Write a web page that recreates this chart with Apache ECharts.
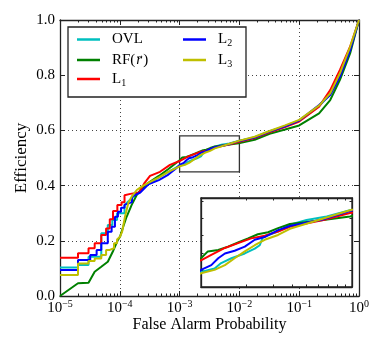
<!DOCTYPE html>
<html>
<head>
<meta charset="utf-8">
<script src="https://cdn.jsdelivr.net/npm/echarts@6/dist/echarts.min.js"></script>
<style>
  html, body { margin: 0; padding: 0; background: #fff; }
  #chart { width: 374px; height: 340px; }
</style>
</head>
<body>
<div id="chart"></div>
<script>
// tick labels
var xTicks = [1e-5, 1e-4, 1e-3, 1e-2, 1e-1, 1];
var xTickExp = ['−5', '−4', '−3', '−2', '−1', '0'];
var yTicks = [0, 0.2, 0.4, 0.6, 0.8, 1.0];
var yTickLabels = ['0.0', '0.2', '0.4', '0.6', '0.8', '1.0'];

// zoom box shown in the inset
var zoomX = [1e-3, 1e-2];
var zoomY = [0.45, 0.58];

var seriesNames = ['OVL', 'RF', 'L1', 'L2', 'L3'];

// [false alarm probability, efficiency]
var ovlData = [
  [1e-5, 0.103], [2e-5, 0.103], [2e-5, 0.112], [3e-5, 0.112], [3e-5, 0.142], [4.9e-5, 0.142],
  [4.9e-5, 0.227], [6.3e-5, 0.227], [6.3e-5, 0.257], [7.5e-5, 0.257], [7.5e-5, 0.275], [9e-5, 0.275],
  [9e-5, 0.3], [1.2e-4, 0.3], [1.2e-4, 0.33], [1.5e-4, 0.35], [2.2e-4, 0.38], [3e-4, 0.405],
  [4.5e-4, 0.43], [6.5e-4, 0.45], [1e-3, 0.472], [1.23e-3, 0.477], [1.36e-3, 0.485], [1.59e-3, 0.492],
  [1.95e-3, 0.499], [2.27e-3, 0.506], [2.45e-3, 0.511], [2.57e-3, 0.523], [3.24e-3, 0.531],
  [3.88e-3, 0.541], [5e-3, 0.548], [6.8e-3, 0.553], [9.7e-3, 0.562], [1.8e-2, 0.575], [3.2e-2, 0.597],
  [5.8e-2, 0.615], [0.1, 0.635], [0.215, 0.688], [0.33, 0.73], [0.48, 0.8], [0.71, 0.893], [1, 1]
];
var rfData = [
  [1e-5, 0], [2e-5, 0.046], [3e-5, 0.048], [3.8e-5, 0.088], [4.9e-5, 0.106], [6.3e-5, 0.124],
  [7.8e-5, 0.165], [9.3e-5, 0.203], [1.01e-4, 0.215], [1.14e-4, 0.251], [1.3e-4, 0.287],
  [1.58e-4, 0.33], [1.92e-4, 0.366], [2.32e-4, 0.39], [3e-4, 0.41], [4.5e-4, 0.435], [6.5e-4, 0.46],
  [1e-3, 0.492], [1.11e-3, 0.502], [1.3e-3, 0.504], [1.51e-3, 0.509], [1.76e-3, 0.515],
  [2.05e-3, 0.521], [2.38e-3, 0.527], [2.78e-3, 0.53], [3.24e-3, 0.536], [3.88e-3, 0.542],
  [6.46e-3, 0.548], [9.7e-3, 0.553], [1.8e-2, 0.566], [3.2e-2, 0.588], [5.8e-2, 0.603], [0.1, 0.618],
  [0.215, 0.662], [0.33, 0.71], [0.48, 0.783], [0.71, 0.879], [1, 1]
];
var l1Data = [
  [1e-5, 0.139], [2e-5, 0.139], [2e-5, 0.155], [3e-5, 0.155], [3e-5, 0.173], [3.8e-5, 0.173],
  [3.8e-5, 0.191], [4.9e-5, 0.191], [4.9e-5, 0.221], [5.9e-5, 0.221], [5.9e-5, 0.245], [6.8e-5, 0.245],
  [6.8e-5, 0.278], [7.7e-5, 0.278], [7.7e-5, 0.308], [9.1e-5, 0.308], [9.1e-5, 0.33], [1.07e-4, 0.33],
  [1.07e-4, 0.34], [1.2e-4, 0.34], [1.2e-4, 0.365], [1.5e-4, 0.37], [2.1e-4, 0.375], [2.6e-4, 0.41],
  [3.2e-4, 0.435], [4.7e-4, 0.45], [6.9e-4, 0.475], [1e-3, 0.489], [1.17e-3, 0.497], [1.44e-3, 0.507],
  [1.76e-3, 0.514], [2.15e-3, 0.521], [2.64e-3, 0.525], [3.24e-3, 0.531], [3.88e-3, 0.538],
  [6.46e-3, 0.548], [9.7e-3, 0.558], [1.8e-2, 0.572], [3.2e-2, 0.593], [5.8e-2, 0.612], [0.1, 0.632],
  [0.215, 0.686], [0.33, 0.746], [0.48, 0.819], [0.71, 0.903], [1, 1]
];
var l2Data = [
  [1e-5, 0.094], [2e-5, 0.094], [2e-5, 0.13], [3.2e-5, 0.13], [3.2e-5, 0.149], [4.1e-5, 0.149],
  [4.1e-5, 0.167], [4.9e-5, 0.167], [4.9e-5, 0.191], [6.3e-5, 0.191], [6.3e-5, 0.233], [7.3e-5, 0.233],
  [7.3e-5, 0.251], [8.3e-5, 0.251], [8.3e-5, 0.287], [9.3e-5, 0.287], [9.3e-5, 0.305], [1.05e-4, 0.305],
  [1.05e-4, 0.32], [1.2e-4, 0.32], [1.2e-4, 0.33], [1.6e-4, 0.34], [1.6e-4, 0.36], [2.2e-4, 0.375],
  [3e-4, 0.405], [4.5e-4, 0.42], [6.5e-4, 0.44], [8.5e-4, 0.46], [1e-3, 0.475], [1.17e-3, 0.482],
  [1.3e-3, 0.492], [1.44e-3, 0.499], [1.67e-3, 0.503], [1.95e-3, 0.509], [2.27e-3, 0.519],
  [2.64e-3, 0.523], [3.24e-3, 0.533], [3.88e-3, 0.539], [6.46e-3, 0.549], [9.7e-3, 0.561],
  [1.8e-2, 0.574], [3.2e-2, 0.596], [5.8e-2, 0.615], [0.1, 0.636], [0.215, 0.692], [0.33, 0.728],
  [0.48, 0.795], [0.71, 0.89], [1, 1]
];
var l3Data = [
  [1e-5, 0.076], [2e-5, 0.076], [2e-5, 0.118], [3e-5, 0.118], [3e-5, 0.127], [3.8e-5, 0.127],
  [3.8e-5, 0.136], [4.9e-5, 0.136], [4.9e-5, 0.149], [5.9e-5, 0.149], [5.9e-5, 0.167], [6.8e-5, 0.167],
  [6.8e-5, 0.173], [8e-5, 0.173], [8e-5, 0.191], [9e-5, 0.191], [9e-5, 0.205], [1.01e-4, 0.215],
  [1.1e-4, 0.235], [1.22e-4, 0.287], [1.39e-4, 0.337], [1.58e-4, 0.36], [1.92e-4, 0.384],
  [2.32e-4, 0.396], [3e-4, 0.41], [4.5e-4, 0.43], [6.5e-4, 0.45], [1e-3, 0.47], [1.23e-3, 0.475],
  [1.44e-3, 0.482], [1.67e-3, 0.492], [1.95e-3, 0.502], [2.27e-3, 0.511], [2.64e-3, 0.519],
  [3.24e-3, 0.526], [3.88e-3, 0.535], [6.46e-3, 0.55], [9.7e-3, 0.562], [1.8e-2, 0.577],
  [3.2e-2, 0.598], [5.8e-2, 0.618], [0.1, 0.638], [0.215, 0.69], [0.33, 0.734], [0.48, 0.807],
  [0.71, 0.903], [1, 1]
];
var allData = [ovlData, rfData, l1Data, l2Data, l3Data];
var colors = ['#00bfbf', '#008000', '#ff0000', '#0000ff', '#bfbf00'];

// minor tick spots of a log axis
var minorX = [];
for (var d = -5; d < 0; d++) {
  for (var k = 2; k <= 9; k++) minorX.push(k * Math.pow(10, d));
}
var insetMinorX = [];
for (var k = 2; k <= 9; k++) insetMinorX.push(k * 1e-3);

var FONT = 'Liberation Serif';
var INK = '#222';

function xLabel(v) {
  var i = xTicks.findIndex(function (t) { return Math.abs(Math.log10(t) - Math.log10(v)) < 1e-6; });
  if (i < 0) return '';
  return '{b|10}{s|' + xTickExp[i] + '}';
}

// RF(r) gets a small arrow over the italic r
function legendName(name) {
  if (name === 'RF') return '{n|RF(}{arr|→}{i|r}{n|)}';
  if (name[0] === 'L') return '{n|L}{sub|' + name.slice(1) + '}';
  return '{n|' + name + '}';
}

var richLegend = {
  n: { fontFamily: FONT, fontSize: 15, lineHeight: 18, color: '#000' },
  i: { fontFamily: FONT, fontSize: 15, lineHeight: 18, fontStyle: 'italic', color: '#000', padding: [0, 1, 0, 1] },
  arr: { fontFamily: FONT, fontSize: 9, lineHeight: 18, verticalAlign: 'top', width: 0, color: '#000' },
  sub: { fontFamily: FONT, fontSize: 10, lineHeight: 18, verticalAlign: 'bottom', color: '#000' }
};

function tickAxis(extra) {
  var base = {
    axisLine: { show: true, lineStyle: { color: INK, width: 1.3 } },
    axisLabel: { show: false },
    splitLine: { show: false },
    axisTick: { show: true, inside: true, length: 5, lineStyle: { color: INK } }
  };
  return Object.assign(base, extra);
}

var myChart = echarts.init(document.getElementById('chart'), null, { renderer: 'canvas' });

var xAxes = [
  // main grid, bottom majors with labels
  tickAxis({
    gridIndex: 0, type: 'log', logBase: 10, min: 1e-5, max: 1, position: 'bottom',
    name: 'False Alarm Probability', nameLocation: 'middle', nameGap: 21, nameMoveOverlap: false,
    nameTextStyle: { fontFamily: FONT, fontSize: 16, color: '#000' },
    axisTick: { show: true, inside: true, length: 5, customValues: xTicks, lineStyle: { color: INK } },
    axisLabel: {
      show: true, margin: 3, customValues: xTicks, formatter: xLabel,
      rich: {
        b: { fontFamily: FONT, fontSize: 15, lineHeight: 18, color: '#000' },
        s: { fontFamily: FONT, fontSize: 10, lineHeight: 18, verticalAlign: 'top', color: '#000' }
      }
    },
    splitLine: { show: true, lineStyle: { color: '#444', width: 1, type: [1, 3] } }
  }),
  tickAxis({ gridIndex: 0, type: 'log', min: 1e-5, max: 1, position: 'bottom',
    axisLine: { show: false }, axisTick: { show: true, inside: true, length: 2.5, customValues: minorX, lineStyle: { color: INK } } }),
  tickAxis({ gridIndex: 0, type: 'log', min: 1e-5, max: 1, position: 'top',
    axisTick: { show: true, inside: true, length: 5, customValues: xTicks, lineStyle: { color: INK } } }),
  tickAxis({ gridIndex: 0, type: 'log', min: 1e-5, max: 1, position: 'top',
    axisLine: { show: false }, axisTick: { show: true, inside: true, length: 2.5, customValues: minorX, lineStyle: { color: INK } } }),
  // inset
  tickAxis({ gridIndex: 1, type: 'log', min: zoomX[0], max: zoomX[1], position: 'bottom', z: 6,
    axisTick: { show: true, inside: true, length: 2.5, customValues: insetMinorX, lineStyle: { color: INK } } }),
  tickAxis({ gridIndex: 1, type: 'log', min: zoomX[0], max: zoomX[1], position: 'top', z: 6,
    axisTick: { show: true, inside: true, length: 2.5, customValues: insetMinorX, lineStyle: { color: INK } } })
];

var yAxes = [
  tickAxis({
    gridIndex: 0, type: 'value', min: 0, max: 1, interval: 0.2, position: 'left',
    name: 'Efficiency', nameLocation: 'middle', nameGap: 30, nameMoveOverlap: false,
    nameTextStyle: { fontFamily: FONT, fontSize: 17, color: '#000' },
    axisLabel: {
      show: true, margin: 5, fontFamily: FONT, fontSize: 15, color: '#000',
      formatter: function (v) {
        var i = yTicks.findIndex(function (t) { return Math.abs(t - v) < 1e-6; });
        return i < 0 ? '' : yTickLabels[i];
      }
    },
    splitLine: { show: true, lineStyle: { color: '#444', width: 1, type: [1, 3] } }
  }),
  tickAxis({ gridIndex: 0, type: 'value', min: 0, max: 1, interval: 0.2, position: 'right' }),
  tickAxis({ gridIndex: 1, type: 'value', min: zoomY[0], max: zoomY[1], interval: 0.025, position: 'left', z: 6,
    axisTick: { show: true, inside: true, length: 2.5, lineStyle: { color: INK } } }),
  tickAxis({ gridIndex: 1, type: 'value', min: zoomY[0], max: zoomY[1], interval: 0.025, position: 'right', z: 6,
    axisTick: { show: true, inside: true, length: 2.5, lineStyle: { color: INK } } })
];

var series = [];
seriesNames.forEach(function (name, i) {
  var s = {
    name: name, type: 'line', xAxisIndex: 0, yAxisIndex: 0,
    data: allData[i], symbol: 'none', showSymbol: false, animation: false,
    lineStyle: { color: colors[i], width: 2 }, itemStyle: { color: colors[i] },
    z: 2
  };
  if (i === 0) {
    s.markArea = {
      silent: true,
      itemStyle: { color: 'rgba(0,0,0,0)', borderColor: '#333', borderWidth: 1.3 },
      data: [[{ xAxis: zoomX[0], yAxis: zoomY[0] }, { xAxis: zoomX[1], yAxis: zoomY[1] }]]
    };
  }
  series.push(s);
});
seriesNames.forEach(function (name, i) {
  series.push({
    name: name, type: 'line', xAxisIndex: 4, yAxisIndex: 2, clip: true,
    data: allData[i], symbol: 'none', showSymbol: false, animation: false,
    lineStyle: { color: colors[i], width: 2 }, itemStyle: { color: colors[i] },
    z: 7
  });
});

var legendCommon = {
  orient: 'vertical', top: 32, padding: 0, itemWidth: 23, itemHeight: 2.5, itemGap: 4,
  icon: 'rect', selectedMode: false, formatter: legendName,
  textStyle: { fontFamily: FONT, fontSize: 15, color: '#000', padding: [0, 0, 0, 7], rich: richLegend }
};

var option = {
  backgroundColor: '#fff',
  animation: false,
  grid: [
    { left: 60, top: 20, width: 299, height: 276, show: false, outerBoundsMode: 'none' },
    { left: 201, top: 198, width: 151, height: 89, show: true, backgroundColor: '#fff',
      borderColor: INK, borderWidth: 1.3, z: 5, outerBoundsMode: 'none' }
  ],
  xAxis: xAxes,
  yAxis: yAxes,
  legend: [
    Object.assign({ left: 77, data: ['OVL', 'RF', 'L1'] }, legendCommon),
    Object.assign({ left: 183, data: ['L2', 'L3'] }, legendCommon)
  ],
  graphic: [{
    type: 'rect', z: 3,
    shape: { x: 68, y: 27, width: 178, height: 70 },
    style: { fill: '#fff', stroke: INK, lineWidth: 1.3 }
  }],
  series: series
};

myChart.setOption(option);
</script>
</body>
</html>
